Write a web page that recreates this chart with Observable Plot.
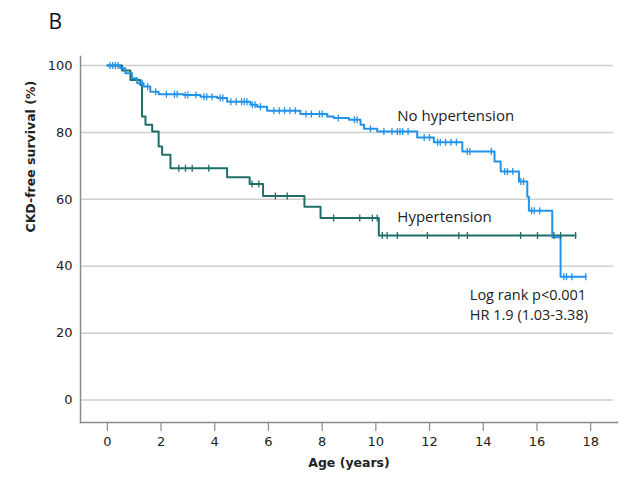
<!DOCTYPE html>
<html>
<head>
<meta charset="utf-8">
<script src="https://cdn.jsdelivr.net/npm/d3@7"></script>
<script src="https://cdn.jsdelivr.net/npm/@observablehq/plot@0.6"></script>
<style>
  html, body { margin: 0; padding: 0; background: #fff; }
  #chart svg { display: block; }
</style>
</head>
<body>
<div id="chart"></div>
<script>
// ---- Data ----
const panelLabel = "B";
const xLabel = "Age (years)";
const yLabel = "CKD-free survival (%)";
const xTicks = [0, 2, 4, 6, 8, 10, 12, 14, 16, 18];
const yTicks = [0, 20, 40, 60, 80, 100];

// No hypertension: step times and survival (%) after each step
const noHtnTimes = [0, 0.48, 0.67, 0.92, 1.11, 1.35, 1.60, 1.91, 2.84, 3.47, 4.09, 4.46, 5.33, 5.58, 5.95, 7.19, 8.19, 8.43, 9.0, 9.43, 9.56, 10.05, 11.54, 12.16, 13.22, 14.42, 14.65, 15.33, 15.64, 15.70, 16.57, 16.88, 17.82];
const noHtnSurv  = [100, 99.2, 97.7, 96.2, 94.7, 93.7, 92.2, 91.4, 91.2, 90.7, 90.3, 89.2, 88.3, 87.7, 86.5, 85.5, 84.8, 84.3, 83.8, 82.3, 81.1, 80.3, 78.5, 77.1, 74.3, 71.3, 68.3, 65.3, 60.8, 56.6, 48.7, 36.9, 36.9];
const noHtnCensor = [0.1, 0.2, 0.3, 0.4, 1.3, 1.5, 1.8, 2.2, 2.5, 2.6, 2.9, 3.0, 3.3, 3.6, 3.7, 3.9, 4.2, 4.3, 4.6, 4.8, 5.0, 5.1, 5.2, 5.4, 5.5, 5.7, 6.2, 6.4, 6.6, 6.8, 7.0, 7.4, 7.6, 7.9, 8.0, 8.6, 9.2, 9.3, 9.8, 10.3, 10.6, 10.8, 10.9, 11.0, 11.2, 11.8, 12.0, 12.3, 12.4, 12.6, 12.8, 13.0, 13.4, 13.5, 14.3, 14.8, 14.9, 15.1, 15.4, 15.5, 15.8, 15.9, 16.1, 17.0, 17.1, 17.3, 17.82];

// Hypertension
const htnTimes = [0, 0.55, 0.86, 1.23, 1.29, 1.42, 1.67, 1.91, 2.04, 2.35, 4.46, 5.30, 5.80, 7.34, 7.94, 10.11, 17.44];
const htnSurv  = [100, 98.5, 95.7, 94.2, 84.8, 82.3, 80.3, 75.8, 73.3, 69.3, 66.6, 64.6, 61.0, 57.8, 54.4, 49.2, 49.2];
const htnCensor = [2.66, 2.91, 3.16, 3.78, 5.39, 5.64, 6.26, 6.70, 8.43, 9.40, 9.87, 10.05, 10.24, 10.42, 10.80, 11.92, 13.09, 13.41, 15.39, 16.02, 16.63, 16.88, 17.44];

const curveLabels = [
  {text: "No hypertension", t: 10.8, s: 85.0},
  {text: "Hypertension", t: 10.8, s: 54.7}
];
const statLabels = [
  {text: "Log rank p<0.001", t: 13.5, s: 31.4},
  {text: "HR 1.9 (1.03-3.38)", t: 13.5, s: 25.4}
];

// ---- Build tables ----
const toRows = (ts, ss) => ts.map((t, i) => ({t, s: ss[i]}));
const noHtn = toRows(noHtnTimes, noHtnSurv);
const htn = toRows(htnTimes, htnSurv);
const survAt = (rows, t) => {
  const i = d3.bisector(d => d.t).right(rows, t) - 1;
  return rows[Math.max(0, i)].s;
};
const noHtnC = noHtnCensor.map(t => ({t, s: survAt(noHtn, t)}));
const htnC = htnCensor.map(t => ({t, s: survAt(htn, t)}));

const blue = "#2393ea";
const teal = "#1f6e68";
const vtick = { draw(ctx, size) { const h = Math.sqrt(size / Math.PI); ctx.moveTo(0, -h); ctx.lineTo(0, h); } };

const axisFont = "DejaVu Sans, sans-serif";
const annFont = "'Open Sans', sans-serif";

const chart = Plot.plot({
  width: 630,
  height: 481,
  marginLeft: 80,
  marginRight: 13,
  marginTop: 56,
  marginBottom: 59,
  style: { fontFamily: axisFont, fontSize: "12px", color: "#222", background: "#fff" },
  x: { domain: [-1, 19] },
  y: { domain: [-6.7, 102.7] },
  marks: [
    Plot.ruleY(yTicks, { x1: -0.98, x2: 18.85, stroke: "#cfcfcf", strokeWidth: 1.5 }),
    Plot.frame({ anchor: "left", stroke: "#8a8a8a", strokeWidth: 1.5 }),
    Plot.frame({ anchor: "bottom", stroke: "#8a8a8a", strokeWidth: 1.5 }),
    Plot.axisX(xTicks, { tickSize: 9, tickPadding: 5, stroke: "#8a8a8a", strokeWidth: 1.2, fontSize: 13, fill: "#222", label: null }),
    Plot.axisY(yTicks, { tickSize: 0, tickPadding: 8, fontSize: 13, fill: "#222", label: null }),
    Plot.line(htn, { x: "t", y: "s", curve: "step-after", stroke: teal, strokeWidth: 2 }),
    Plot.line(noHtn, { x: "t", y: "s", curve: "step-after", stroke: blue, strokeWidth: 2 }),
    Plot.dot(htnC, { x: "t", y: "s", symbol: vtick, r: 3.5, stroke: teal, strokeWidth: 1.3 }),
    Plot.dot(noHtnC, { x: "t", y: "s", symbol: vtick, r: 3.5, stroke: blue, strokeWidth: 1.3 }),
    Plot.text(curveLabels, { x: "t", y: "s", text: "text", textAnchor: "start", fontFamily: annFont, fontSize: 15, fill: "#222" }),
    Plot.text(statLabels, { x: "t", y: "s", text: "text", textAnchor: "start", fontFamily: annFont, fontSize: 14.5, fill: "#222" }),
    Plot.text([panelLabel], { frameAnchor: "top-left", dx: -32, dy: -42, textAnchor: "start", lineAnchor: "top", fontSize: 21, fontFamily: annFont, fill: "#111" }),
    Plot.text([yLabel], { frameAnchor: "left", rotate: -90, dx: -50, dy: -7, fontWeight: "bold", fontSize: 12.5, fill: "#222" }),
    Plot.text([xLabel], { frameAnchor: "bottom", dy: 44, fontWeight: "bold", fontSize: 12.5, fill: "#222" })
  ]
});
document.getElementById("chart").appendChild(chart);
</script>
</body>
</html>
